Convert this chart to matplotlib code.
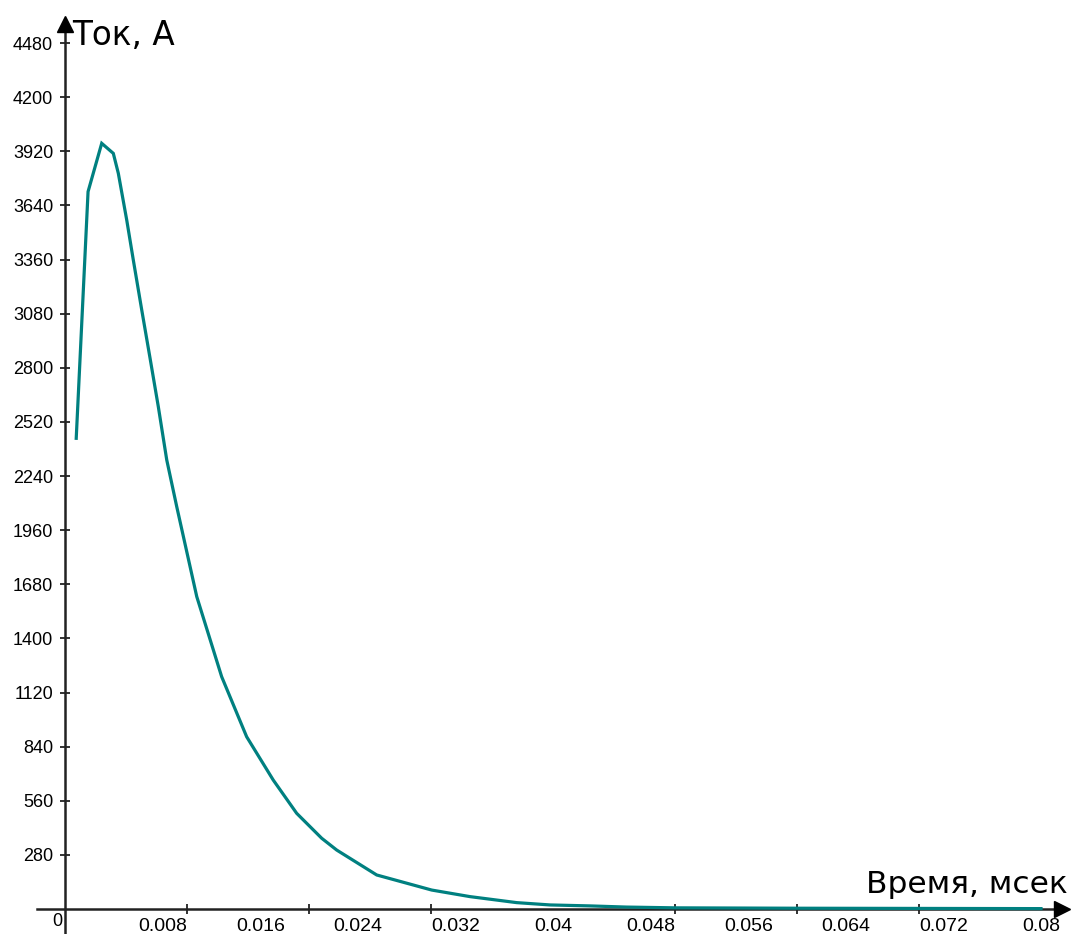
import matplotlib
matplotlib.use("Agg")
import matplotlib.pyplot as plt

# time, msec / current, A
time_ms = [0.00092, 0.00189, 0.00301, 0.00396, 0.00437, 0.00506, 0.00560,
           0.00629, 0.00697, 0.00765, 0.00834, 0.00916, 0.01080,
           0.01284, 0.01489, 0.01707, 0.01899, 0.02104, 0.02227, 0.02555,
           0.03006, 0.03320, 0.03702, 0.03975, 0.04303, 0.046, 0.05,
           0.06, 0.07, 0.08]
current = [2435, 3711, 3961, 3909, 3806, 3564, 3357,
           3099, 2850, 2598, 2323, 2081, 1616,
           1202, 891, 667, 495, 366, 305, 176,
           98, 64, 33, 21, 16, 10, 6,
           4, 3, 2]

x_labels = ["0.008", "0.016", "0.024", "0.032", "0.04", "0.048",
            "0.056", "0.064", "0.072", "0.08"]
x_label_pos = [0.008 * i for i in range(1, 11)]
x_tick_marks = [0.01 * i for i in range(1, 9)]
y_ticks = [280 * i for i in range(1, 17)]

W, H = 1073, 934
px_x = 12200.0          # pixels per msec unit
px_y = 866 / 4480.0     # pixels per ampere
x0, y0 = 65, 909        # origin in image pixels

fig = plt.figure(figsize=(W / 100, H / 100), dpi=100)
ax = fig.add_axes([0, 0, 1, 1])
ax.set_xlim(-x0 / px_x, (W - x0) / px_x)
ax.set_ylim(-(H - y0) / px_y, y0 / px_y)

axis_col = "#222222"
for side in ("top", "right"):
    ax.spines[side].set_visible(False)
ax.spines["left"].set_position(("data", 0))
ax.spines["bottom"].set_position(("data", 0))
ax.spines["left"].set_bounds(-(H - y0) / px_y, (y0 - 22) / px_y)
ax.spines["bottom"].set_bounds(-28 / px_x, (1058 - x0) / px_x)
for side in ("left", "bottom"):
    ax.spines[side].set_linewidth(1.8)
    ax.spines[side].set_color(axis_col)

# arrow heads
ax.plot([0], [(y0 - 24) / px_y], marker="^", ms=12, color="black",
        clip_on=False, zorder=5)
ax.plot([(1062 - x0) / px_x], [0], marker=">", ms=12, color="black",
        clip_on=False, zorder=5)

tick_font = {"family": "Liberation Sans", "size": 13}
xtick_font = {"family": "Liberation Sans", "size": 14}

ax.set_yticks(y_ticks)
ax.set_yticklabels([str(v) for v in y_ticks], fontdict=tick_font)
ax.tick_params(axis="y", direction="inout", length=7, width=1.3,
               color=axis_col, pad=5)

ax.set_xticks(x_label_pos)
ax.set_xticklabels(x_labels, fontdict=xtick_font)
ax.set_xticks(x_tick_marks, minor=True)
ax.tick_params(axis="x", which="major", length=0, pad=6.5)
ax.tick_params(axis="x", which="minor", direction="inout", length=7,
               width=1.3, color=axis_col)

ax.text(-3 / px_x, -4 / px_y, "0", ha="right", va="top", **tick_font)

ax.plot(time_ms, current, color="#008080", lw=2.3, zorder=4,
        solid_joinstyle="miter")

ax.text(7 / px_x, (y0 - 45) / px_y, "Ток, А", fontsize=23.5,
        family="DejaVu Sans", ha="left", va="baseline")
ax.text((1068 - x0) / px_x, (y0 - 893) / px_y, "Время, мсек", fontsize=22.5,
        family="DejaVu Sans", ha="right", va="baseline")

fig.savefig("out.png", dpi=100)
